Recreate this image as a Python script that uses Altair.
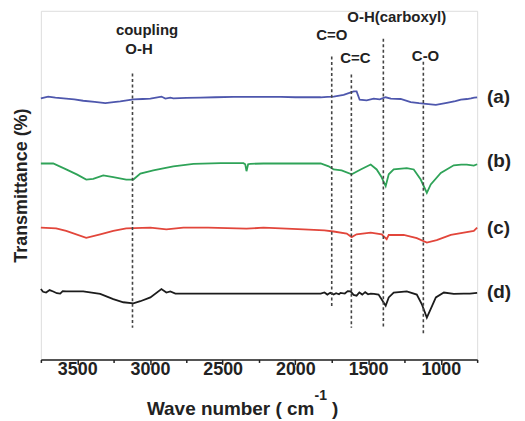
import altair as alt
import pandas as pd

# ---- data (wavenumber cm^-1, transmittance arbitrary offset units) ----
wn_a = [3750, 3700, 3650, 3576, 3520, 3459, 3380, 3307, 3250, 3204, 3114, 3050, 2997, 2921, 2894, 2860,
        2839, 2750, 2653, 2550, 2426, 2300, 2219, 2100, 2000, 1900, 1826, 1780, 1737, 1668, 1599, 1579,
        1558, 1510, 1461, 1420, 1379, 1344, 1276, 1207, 1150, 1103, 1034, 959, 900, 862, 820, 793, 770, 750]
tr_a = [74.9, 75.4, 75.1, 74.8, 74.6, 74.2, 73.9, 73.5, 73.8, 74.0, 74.6, 74.7, 74.8, 75.4, 74.8, 75.1,
        74.9, 75.0, 75.1, 75.2, 75.3, 75.3, 75.3, 75.3, 75.2, 75.2, 75.2, 75.3, 75.4, 75.9, 76.9, 76.9,
        74.5, 74.3, 74.8, 74.6, 75.2, 74.8, 74.7, 73.8, 73.5, 73.3, 73.0, 73.6, 74.1, 74.5, 74.7, 74.9, 75.1, 75.2]

wn_b = [3750, 3665, 3576, 3500, 3438, 3390, 3321, 3252, 3163, 3114, 3066, 2977, 2900, 2839, 2701, 2515,
        2357, 2345, 2336, 2325, 2309, 2219, 2000, 1826, 1771, 1737, 1682, 1613, 1551, 1482, 1441, 1410,
        1379, 1358, 1324, 1234, 1186, 1138, 1096, 1069, 1000, 911, 860, 821, 773, 750]
tr_b = [56.2, 56.2, 54.5, 53.0, 51.6, 51.8, 52.8, 52.3, 51.6, 51.6, 53.3, 54.2, 54.9, 55.4, 56.1, 56.3,
        56.3, 56.0, 54.0, 56.0, 56.1, 56.2, 56.2, 56.2, 55.4, 54.5, 54.2, 53.1, 54.5, 55.9, 54.5, 52.5,
        49.7, 53.1, 54.5, 54.9, 54.5, 51.6, 47.8, 50.2, 53.5, 55.7, 55.9, 55.9, 55.6, 56.0]

wn_c = [3750, 3645, 3576, 3438, 3342, 3252, 3163, 2997, 2887, 2770, 2600, 2336, 2219, 2100, 1944, 1800,
        1737, 1647, 1613, 1579, 1482, 1406, 1372, 1358, 1255, 1165, 1096, 1028, 931, 842, 773, 750]
tr_c = [37.8, 37.6, 36.9, 34.9, 35.9, 36.9, 37.6, 37.8, 37.3, 37.8, 37.8, 37.5, 37.8, 37.6, 37.3, 37.0,
        36.7, 36.1, 35.1, 35.9, 36.4, 35.9, 34.5, 35.7, 35.7, 34.8, 33.5, 34.2, 35.7, 36.4, 36.9, 37.8]

wn_d = [3750, 3735, 3714, 3690, 3665, 3640, 3617, 3600, 3576, 3459, 3342, 3252, 3183, 3114, 3066, 2997,
        2921, 2887, 2860, 2825, 2653, 2219, 1900, 1826, 1800, 1780, 1760, 1737, 1720, 1700, 1689, 1660,
        1640, 1620, 1600, 1579, 1560, 1540, 1520, 1500, 1482, 1460, 1428, 1379, 1358, 1324, 1234, 1165,
        1131, 1096, 1069, 1034, 979, 911, 842, 800, 750]
tr_d = [20.2, 19.4, 19.2, 19.9, 19.5, 19.0, 18.9, 19.6, 19.5, 19.5, 18.8, 17.3, 16.4, 16.1, 16.7, 17.8,
        20.2, 19.2, 19.5, 18.9, 18.9, 18.9, 18.9, 18.9, 19.2, 18.6, 19.1, 18.6, 19.0, 18.7, 19.1, 18.9,
        19.6, 19.5, 18.5, 18.3, 19.2, 18.6, 19.3, 18.7, 18.9, 18.8, 18.6, 15.4, 17.8, 19.2, 19.5, 18.6,
        15.9, 12.0, 14.5, 17.8, 19.2, 18.8, 18.9, 18.9, 19.1]

series_names = ["(a)", "(b)", "(c)", "(d)"]
series_colors = ["#4e57ad", "#2fa358", "#e2463b", "#1c1c1c"]
series_widths = [1.5, 2.2, 1.8, 2.0]

# dashed guide lines: position, top, bottom
guide_wn = [3120, 1750, 1615, 1395, 1120]
guide_top = [82.0, 86.9, 81.7, 92.0, 85.4]
guide_bottom = [9.1, 14.6, 9.1, 9.1, 7.4]

# annotation labels
ann_text = ["coupling", "O-H", "C=O", "C=C", "O-H(carboxyl)", "C-O"]
ann_wn = [3020, 3075, 1750, 1587, 1303, 1105]
ann_v = [94.6, 89.1, 93.1, 86.6, 98.3, 86.9]

# series labels at right
lab_wn = [683, 683, 683, 683]
lab_v = [75.4, 56.9, 37.8, 19.2]

# axis ticks
major_ticks = [3500, 3000, 2500, 2000, 1500, 1000]
all_ticks = [3750, 3500, 3250, 3000, 2750, 2500, 2250, 2000, 1750, 1500, 1250, 1000, 750]

# x-title pieces (superscript and closing bracket)
xt_text = ["-1", ")"]
xt_wn = [1825, 1726]
xt_v = [-10.6, -14.3]
xt_size = [14, 19]

# ---- tables ----
rows = []
for name, wn, tr in zip(series_names, [wn_a, wn_b, wn_c, wn_d], [tr_a, tr_b, tr_c, tr_d]):
    for i, (w, t) in enumerate(zip(wn, tr)):
        rows.append({"series": name, "w": w, "v": t, "i": i})
spec_df = pd.DataFrame(rows)
guide_df = pd.DataFrame({"w": guide_wn, "v": guide_top, "v2": guide_bottom})
ann_df = pd.DataFrame({"w": ann_wn, "v": ann_v, "t": ann_text})
lab_df = pd.DataFrame({"w": lab_wn, "v": lab_v, "t": series_names})
xt_df = pd.DataFrame({"w": xt_wn, "v": xt_v, "t": xt_text, "s": xt_size})

FONT = "Liberation Sans"
xscale = alt.Scale(domain=[3750, 750], nice=False, zero=False)
yscale = alt.Scale(domain=[0, 100], nice=False, zero=False)

major_expr = "indexof([" + ",".join(str(m) for m in major_ticks) + "], datum.value) >= 0"
x_axis = alt.Axis(
    values=all_ticks, orient="bottom", grid=False,
    labelExpr=f"{major_expr} ? datum.label : ''",
    title="Wave number ( cm", titleFont=FONT, titleFontSize=19,
    titleFontWeight="bold", titleColor="#222", titleX=106, titleY=49,
    titleAlign="left", titleBaseline="middle", titleAnchor="start",
    labelFont=FONT, labelFontSize=18, labelFontWeight="bold", labelColor="#222",
    labelBaseline="middle", labelPadding=5, tickWidth=1.5, tickColor="#222",
    tickSize={"condition": {"test": major_expr, "value": 5}, "value": 3},
    domainColor="#222", domainWidth=1.5, format="d", labelOverlap=False, labelFlush=False,
)
y_axis = alt.Axis(
    title="Transmittance (%)", labels=False, ticks=False, domain=False, grid=False,
    titleFont=FONT, titleFontSize=18, titleFontWeight="bold", titleColor="#222",
    titlePadding=10,
)
X = alt.X("w:Q", scale=xscale, axis=x_axis, title="Wave number ( cm")
Y = alt.Y("v:Q", scale=yscale, axis=y_axis, title="Transmittance (%)")

lines = alt.Chart(spec_df).mark_line(strokeWidth=1.8, interpolate="linear").encode(
    x=X,
    y=Y,
    color=alt.Color("series:N", scale=alt.Scale(domain=series_names, range=series_colors), legend=None),
    strokeWidth=alt.StrokeWidth("series:N", scale=alt.Scale(domain=series_names, range=series_widths), legend=None),
    order="i:Q",
    detail="series:N",
)

guides = alt.Chart(guide_df).mark_rule(color="#444", strokeWidth=1.6, strokeDash=[3, 2.5]).encode(
    x=X, y=Y, y2="v2:Q",
)

ann = alt.Chart(ann_df).mark_text(font=FONT, fontSize=15, fontWeight="bold", color="#222",
                                  align="center", baseline="middle").encode(
    x=X, y=Y, text="t:N",
)

labs = alt.Chart(lab_df).mark_text(font=FONT, fontSize=19, fontWeight="bold", color="#222",
                                   align="left", baseline="middle").encode(
    x=X, y=Y, text="t:N",
)

xt = alt.Chart(xt_df).mark_text(font=FONT, fontWeight="bold", color="#222",
                                align="center", baseline="middle").encode(
    x=X, y=Y, text="t:N",
    size=alt.Size("s:Q", scale=None, legend=None),
)

chart = alt.layer(lines, guides, ann, labs, xt).properties(
    width=438, height=350,
    padding={"left": 5, "top": 0, "right": 5, "bottom": 5},
).configure_view(stroke=None).configure(background="white")

chart.save("out.html", embed_options={"renderer": "svg", "actions": False})
